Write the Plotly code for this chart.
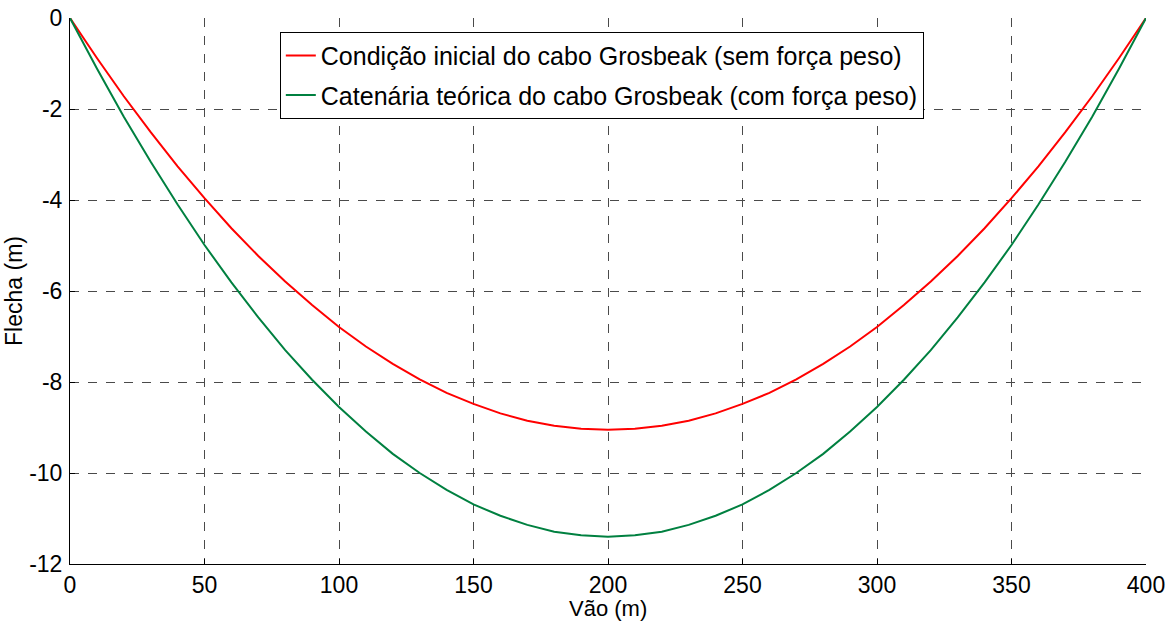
import plotly.graph_objects as go

# Span positions (m)
vao = [0, 10, 20, 30, 40, 50, 60, 70, 80, 90, 100, 110, 120, 130, 140, 150, 160, 170, 180, 190,
       200, 210, 220, 230, 240, 250, 260, 270, 280, 290, 300, 310, 320, 330, 340, 350, 360, 370,
       380, 390, 400]

# Sag of the cable without self-weight (m)
flecha_inicial = [0, -0.88, -1.72, -2.51, -3.26, -3.96, -4.62, -5.23, -5.79, -6.31, -6.79, -7.22,
                  -7.60, -7.94, -8.24, -8.48, -8.69, -8.85, -8.96, -9.03, -9.05, -9.03, -8.96,
                  -8.85, -8.69, -8.48, -8.24, -7.94, -7.60, -7.22, -6.79, -6.31, -5.79, -5.23,
                  -4.62, -3.96, -3.26, -2.51, -1.72, -0.88, 0]

# Theoretical catenary with self-weight (m)
flecha_catenaria = [0, -1.11, -2.17, -3.16, -4.10, -4.99, -5.81, -6.58, -7.30, -7.95, -8.55, -9.09,
                    -9.58, -10.00, -10.37, -10.69, -10.94, -11.14, -11.29, -11.37, -11.40, -11.37,
                    -11.29, -11.14, -10.94, -10.69, -10.37, -10.00, -9.58, -9.09, -8.55, -7.95,
                    -7.30, -6.58, -5.81, -4.99, -4.10, -3.16, -2.17, -1.11, 0]

x_ticks = [0, 50, 100, 150, 200, 250, 300, 350, 400]
y_ticks = [0, -2, -4, -6, -8, -10, -12]

FONT = "Liberation Sans, Arial, Helvetica, sans-serif"
FS = 23
FS_LEG = 25

fig = go.Figure()
fig.add_trace(go.Scatter(x=vao, y=flecha_inicial, mode="lines",
                         line=dict(color="#ff0000", width=2), legendgroup="a",
                         name="Condição inicial do cabo Grosbeak (sem força peso)"))
fig.add_trace(go.Scatter(x=vao, y=flecha_catenaria, mode="lines",
                         line=dict(color="#008040", width=2), legendgroup="b",
                         name="Catenária teórica do cabo Grosbeak (com força peso)"))

axis_common = dict(
    showgrid=True, gridcolor="#4a4a4a", gridwidth=1, griddash="dash",
    zeroline=False, showline=True, linecolor="black", linewidth=1,
    ticks="inside", ticklen=5, tickcolor="black", automargin=False,
    tickfont=dict(family=FONT, size=FS, color="black"),
)

fig.update_xaxes(range=[0, 400], tickvals=x_ticks, ticktext=[str(v) for v in x_ticks],
                 ticklabelstandoff=0,
                 **axis_common)
fig.update_yaxes(range=[-12, 0], tickvals=y_ticks, ticktext=[str(v) for v in y_ticks],
                 ticklabelstandoff=2,
                 title=dict(text="Flecha (m)", font=dict(family=FONT, size=FS, color="black"),
                            standoff=0),
                 **axis_common)

# x-axis title placed just under the tick labels
fig.add_annotation(text="Vão (m)", xref="paper", yref="paper", x=0.5, y=-0.0806,
                   xanchor="center", yanchor="middle", showarrow=False,
                   font=dict(family=FONT, size=22, color="black"))

fig.update_layout(
    width=1173, height=622,
    margin=dict(l=70, r=27, t=18, b=58),
    paper_bgcolor="white", plot_bgcolor="white",
    font=dict(family=FONT, size=FS, color="black"),
    legend=dict(x=0.195, y=0.975, xanchor="left", yanchor="top",
                bgcolor="white", bordercolor="black", borderwidth=1,
                font=dict(family=FONT, size=FS_LEG, color="black"),
                traceorder="grouped", tracegroupgap=4),
    showlegend=True,
)

fig.write_html("out.html")
